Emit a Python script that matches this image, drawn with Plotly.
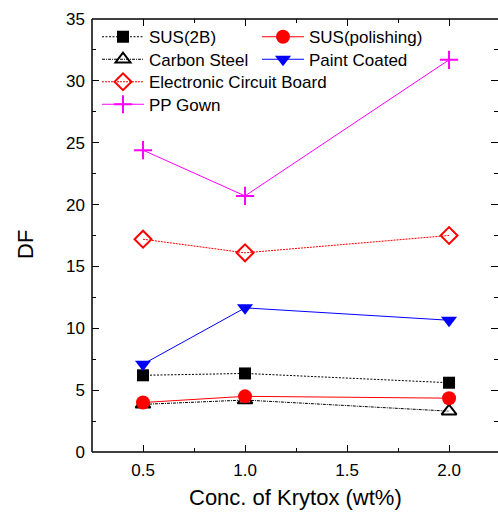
import plotly.graph_objects as go

# Krytox concentration (wt%)
conc = [0.5, 1.0, 2.0]

# DF values for each surface
sus_2b = [6.2, 6.35, 5.6]
sus_polishing = [4.0, 4.5, 4.35]
carbon_steel = [3.85, 4.2, 3.3]
paint_coated = [7.1, 11.65, 10.65]
circuit_board = [17.2, 16.1, 17.5]
pp_gown = [24.4, 20.7, 31.7]

FONT = "Arial, Liberation Sans, sans-serif"

series = [
    # name, values, color, dash, symbol, size, legend id
    ("SUS(2B)", sus_2b, "black", "2px,1.5px", "square", 12, "legend"),
    ("Carbon Steel", carbon_steel, "black", "3px,1px,1px,1px", "triangle-up-open", 13, "legend2"),
    ("Electronic Circuit Board", circuit_board, "#ff0000", "2px,1px", "diamond-open", 13, "legend3"),
    ("PP Gown", pp_gown, "#ff00ff", "solid", "cross-thin-open", 13, "legend4"),
    ("SUS(polishing)", sus_polishing, "#ff0000", "solid", "circle", 14, "legend5"),
    ("Paint Coated", paint_coated, "#0000ff", "solid", "triangle-down", 14, "legend6"),
]

fig = go.Figure()
for name, vals, color, dash, symbol, size, leg in series:
    fig.add_trace(go.Scatter(
        x=conc, y=vals, name=name, mode="lines+markers",
        line=dict(color=color, width=1, dash=dash),
        marker=dict(symbol=symbol, size=size, color=color,
                    line=dict(color=color, width=2 if "open" in symbol else 0)),
        legend=leg,
    ))

L, T, B = 92, 19, 60
H = 512 - T - B


def py(pix):
    return (512 - B - pix) / H


def px(pix):
    return (pix - L) / (498 - L)


legend_rows = {
    "legend": (97, 37.2),
    "legend2": (97, 59.7),
    "legend3": (97, 82.2),
    "legend4": (97, 104.7),
    "legend5": (257, 37.2),
    "legend6": (257, 59.7),
}
legend_layout = {}
for key, (lx, ly) in legend_rows.items():
    legend_layout[key] = dict(
        x=px(lx), y=py(ly), xanchor="left", yanchor="middle",
        bgcolor="rgba(0,0,0,0)", borderwidth=0,
        font=dict(family=FONT, size=17, color="black"),
        itemwidth=42, tracegroupgap=0,
    )

axis_common = dict(
    showline=False, showgrid=False, zeroline=False,
    ticks="inside", ticklen=7, tickwidth=1, tickcolor="black",
    mirror="ticks",
    tickfont=dict(family=FONT, size=17, color="black"),
)

fig.update_layout(
    width=498, height=512,
    margin=dict(l=L, r=0, t=T, b=B),
    paper_bgcolor="white", plot_bgcolor="white",
    showlegend=True,
    xaxis=dict(
        range=[0.25, 2.24], tickvals=[0.5, 1.0, 1.5, 2.0],
        ticktext=["0.5", "1.0", "1.5", "2.0"],
        minor=dict(dtick=0.25, tick0=0.25, ticks="inside", ticklen=4,
                   tickcolor="black", tickwidth=1),
        ticklabelstandoff=6,
        **axis_common,
    ),
    yaxis=dict(
        range=[0, 35], dtick=5, tick0=0,
        minor=dict(dtick=2.5, tick0=0, ticks="inside", ticklen=4,
                   tickcolor="black", tickwidth=1),
        ticklabelstandoff=6,
        **axis_common,
    ),
    shapes=[
        dict(type="line", xref="paper", yref="paper", x0=0, x1=0, y0=0, y1=1,
             line=dict(color="black", width=1.5)),
        dict(type="line", xref="paper", yref="paper", x0=0, x1=1, y0=0, y1=0,
             line=dict(color="black", width=1.5)),
        dict(type="line", xref="paper", yref="paper", x0=0, x1=1, y0=1, y1=1,
             line=dict(color="black", width=1.5)),
    ],
    annotations=[
        dict(text="Conc. of Krytox (wt%)", xref="paper", yref="paper",
             x=0.5, y=py(511.5), xanchor="center", yanchor="bottom",
             borderpad=0, showarrow=False,
             font=dict(family=FONT, size=22, color="black")),
        dict(text="DF", xref="paper", yref="paper",
             x=px(25), y=py(245), xanchor="center", yanchor="middle",
             textangle=-90, showarrow=False,
             font=dict(family=FONT, size=22, color="black")),
    ],
    **legend_layout,
)

fig.write_html("out.html")
